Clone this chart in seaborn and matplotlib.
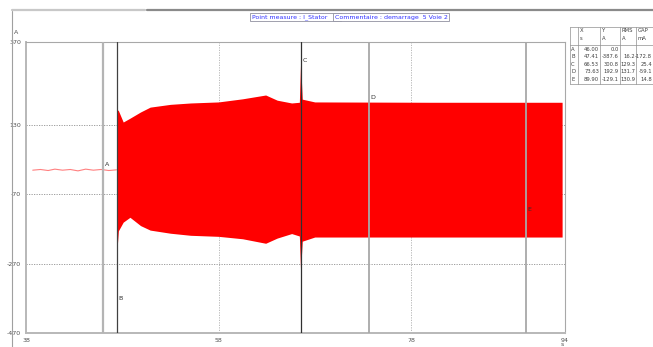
import numpy as np
import pandas as pd
import matplotlib
matplotlib.use('Agg')
import matplotlib.pyplot as plt
from matplotlib.lines import Line2D
import seaborn as sns

# Pre-start current (almost zero) before cursor B
pre_t = [38.7, 39.5, 40.3, 41.0, 41.8, 42.6, 43.4, 44.2, 45.0, 45.8, 46.6, 47.4]
pre_v = [0, 2, -1, 3, 0, 2, -2, 3, 0, 2, -1, 1]

# Envelope of the stator current during start-up
env_t = [47.41, 47.6, 48.1, 48.8, 49.9, 50.9, 53.0, 55.1, 58.0, 60.5, 62.9, 64.1,
         65.6, 66.4, 66.53, 66.7, 68.0, 80.0, 93.7]
env_top = [176, 172, 139, 150, 168, 182, 190, 194, 197, 206, 217, 202,
           194, 196, 312, 205, 197, 196, 196]
env_bot = [-246, -175, -150, -136, -160, -173, -182, -188, -191, -198, -211, -196,
           -183, -190, -292, -205, -193, -193, -193]

# Cursors
cursor_names = ['A', 'B', 'C', 'D', 'E']
cursor_x = [46.00, 47.41, 66.53, 73.63, 89.90]
cursor_y = [0.0, -387.6, 300.8, 192.9, -129.1]
cursor_rms = ['', '16.2', '129.3', '131.7', '130.9']
cursor_gap = ['', '-172.8', '25.4', '-59.1', '14.8']
cursor_colors = ['#b4b4b4', '#404040', '#303030', '#a8a8a8', '#a8a8a8']
cursor_widths = [1.6, 0.9, 0.9, 1.3, 1.3]

y_ticks = [370, 130, -70, -270, -470]
x_ticks = [38, 58, 78, 94]


def main():
    sns.set_style('white')
    plt.rcParams['font.family'] = ['DejaVu Sans']

    fig = plt.figure(figsize=(6.53, 3.47), dpi=100)
    W, H = 653, 347
    ax = fig.add_axes([26 / W, (H - 333) / H, (565 - 26) / W, (333 - 42) / H])

    # signal
    ax.fill_between(env_t, env_bot, env_top, color='#ff0000', lw=0, zorder=2)
    pre = pd.DataFrame({'t': pre_t, 'v': pre_v})
    sns.lineplot(data=pre, x='t', y='v', ax=ax, color='#ff8080', lw=0.8, zorder=2)

    # cursors
    for name, cx, cy, c, w in zip(cursor_names, cursor_x, cursor_y, cursor_colors, cursor_widths):
        ax.axvline(cx, color=c, lw=w, zorder=3)
        ax.text(cx + 0.2, cy + 12, name, fontsize=4.5, color='#303030', zorder=5)

    ax.set_xlim(38, 94)
    ax.set_ylim(-470, 370)
    ax.set_xticks(x_ticks)
    ax.set_xticks(np.arange(38, 95, 4), minor=True)
    ax.set_yticks(y_ticks)
    ax.set_yticks(np.arange(-470, 371, 40), minor=True)
    ax.set_xticklabels([str(v) for v in x_ticks])
    ax.set_yticklabels([str(v) for v in y_ticks])
    ax.tick_params(which='both', direction='out', length=2, width=0.6, color='#a0a0a0',
                   labelsize=4.5, labelcolor='#505050', pad=1.5)
    ax.tick_params(which='minor', length=1.5)
    ax.set_xlabel('')
    ax.set_ylabel('')

    for y in [130, -70, -270]:
        ax.axhline(y, color='#909090', lw=0.6, ls=(0, (1.5, 1.5)), zorder=1)
    for x in [58, 78]:
        ax.axvline(x, color='#b0b0b0', lw=0.6, ls=(0, (1.5, 1.5)), zorder=1)

    for side in ['left', 'bottom']:
        ax.spines[side].set_color('#b8b8b8')
        ax.spines[side].set_linewidth(1.4)
    for side in ['top', 'right']:
        ax.spines[side].set_color('#a8a8a8')
        ax.spines[side].set_linewidth(0.8)

    # units
    fig.text(14 / W, 1 - 32 / H, 'A', fontsize=4.5, color='#505050', va='center')
    fig.text(561 / W, 1 - 345 / H, 's', fontsize=4.5, color='#505050', va='center')

    # window frame decoration
    fig.add_artist(Line2D([12 / W, 12 / W], [0, 1 - 11 / H], color='#a0a0a0', lw=0.8))
    fig.add_artist(Line2D([12 / W, 145 / W], [1 - 10 / H, 1 - 10 / H], color='#c8c8c8', lw=1.6))
    fig.add_artist(Line2D([147 / W, 1], [1 - 10 / H, 1 - 10 / H], color='#8a8a8a', lw=1.6))

    # header boxes
    box = dict(boxstyle='square,pad=0.25', fc='white', ec='#9090a0', lw=0.6)
    fig.text(252 / W, 1 - 17 / H, 'Point measure : I_Stator    \u00bb', fontsize=4.5,
             color='#3030ff', va='center', bbox=box)
    fig.text(335 / W, 1 - 17 / H, 'Commentaire : demarrage  5 Voie 2', fontsize=4.5,
             color='#3030ff', va='center', bbox=box)

    # cursor table
    tx0, tx1 = 570, 653
    ty0, ty1, ty2 = 27, 45, 84
    cols = [570, 578, 600, 620, 636, 653]
    lc = '#909090'
    fig.add_artist(Line2D([tx0 / W, tx1 / W], [1 - ty0 / H] * 2, color=lc, lw=0.5))
    fig.add_artist(Line2D([tx0 / W, tx1 / W], [1 - ty1 / H] * 2, color=lc, lw=0.5))
    fig.add_artist(Line2D([tx0 / W, tx1 / W], [1 - ty2 / H] * 2, color=lc, lw=0.5))
    for cxp in cols[:-1]:
        fig.add_artist(Line2D([cxp / W] * 2, [1 - ty0 / H, 1 - ty2 / H], color=lc, lw=0.5))
    heads = [('X', 's'), ('Y', 'A'), ('RMS', 'A'), ('GAP', 'mA')]
    for (h1, h2), cxp in zip(heads, cols[1:5]):
        fig.text((cxp + 1.5) / W, 1 - 31 / H, h1, fontsize=3.8, color='#404040', va='center')
        fig.text((cxp + 1.5) / W, 1 - 38 / H, h2, fontsize=3.8, color='#404040', va='center')
    for i, name in enumerate(cursor_names):
        yy = 1 - (49.5 + i * 7.4) / H
        fig.text(571 / W, yy, name, fontsize=3.8, color='#404040', va='center')
        fig.text(599 / W, yy, f'{cursor_x[i]:.2f}', fontsize=3.8, color='#404040', va='center', ha='right')
        fig.text(619 / W, yy, f'{cursor_y[i]:.1f}', fontsize=3.8, color='#404040', va='center', ha='right')
        fig.text(635 / W, yy, cursor_rms[i], fontsize=3.8, color='#404040', va='center', ha='right')
        fig.text(652 / W, yy, cursor_gap[i], fontsize=3.8, color='#404040', va='center', ha='right')

    fig.savefig('out.png', dpi=100)


if __name__ == '__main__':
    main()
